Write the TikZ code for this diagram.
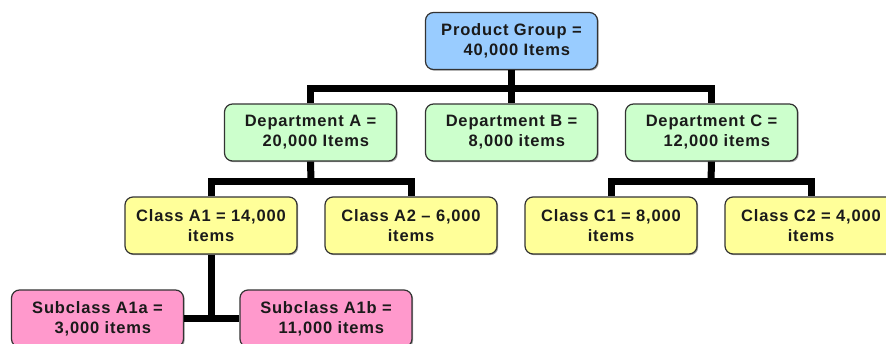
\documentclass[tikz,border=0pt]{standalone}
\usepackage{fontspec}
\setmainfont{Liberation Sans}
\newfontfamily\boxfont[LetterSpace=5]{Liberation Sans}
\usetikzlibrary{shadows}
\definecolor{cblue}{HTML}{99CCFF}
\definecolor{cgreen}{HTML}{CCFFCC}
\definecolor{cyellow}{HTML}{FFFF99}
\definecolor{cpink}{HTML}{FF99CC}
\definecolor{cborder}{HTML}{333333}
\definecolor{ctext}{HTML}{1A1A1A}
\begin{document}
\begin{tikzpicture}[x=1pt,y=-1pt,
  boxst/.style={draw=cborder,line width=1.2pt,rounded corners=8pt,minimum width=172pt,minimum height=57pt,
    align=center,font=\boxfont\bfseries\fontsize{16.5}{20}\selectfont,text=ctext,inner sep=0pt,
    drop shadow={shadow xshift=1.2pt,shadow yshift=-1.2pt,fill=black,opacity=0.35}},
  conn/.style={line width=7pt,line join=miter,draw=black}]
\useasboundingbox (0,0) rectangle (886,343);
\clip (0,0) rectangle (886,343);
\coordinate (bar1) at (511,88);
\coordinate (barA) at (311,181);
\coordinate (barC) at (711,181);
\coordinate (subc) at (211,318);
\node[boxst,fill=cblue] (pg) at (511.5,41) {Product Group =\\ \ \ 40,000 Items};
\node[boxst,fill=cgreen] (da) at (310.5,132.5) {Department A =\\ \ \ 20,000 Items};
\node[boxst,fill=cgreen] (db) at (511.5,132.5) {Department B =\\ \ \ 8,000 items};
\node[boxst,fill=cgreen] (dc) at (711.5,132.5) {Department C =\\ \ \ 12,000 items};
\node[boxst,fill=cyellow] (ca1) at (211,225.5) {Class A1 = 14,000\\ items};
\node[boxst,fill=cyellow] (ca2) at (411,225.5) {Class A2 \textendash{} 6,000\\ items};
\node[boxst,fill=cyellow] (cc1) at (611,225.5) {Class C1 = 8,000\\ items};
\node[boxst,fill=cyellow] (cc2) at (811,225.5) {Class C2 = 4,000\\ items};
\node[boxst,fill=cpink] (sa) at (97.5,318.5) {Subclass A1a =\\ \ \ 3,000 items};
\node[boxst,fill=cpink] (sb) at (326,318.5) {Subclass A1b =\\ \ \ 11,000 items};
\draw[conn] (pg.south) -- (db.north);
\draw[conn] (da.north) |- (bar1) -| (dc.north);
\draw[conn] (ca1.north) |- (barA) -| (ca2.north);
\draw[conn] (da.south) -- (barA);
\draw[conn] (cc1.north) |- (barC) -| (cc2.north);
\draw[conn] (dc.south) -- (barC);
\draw[conn] (ca1.south) -- (subc);
\draw[conn] (sa.east |- subc) -- (sb.west |- subc);
\end{tikzpicture}
\end{document}
